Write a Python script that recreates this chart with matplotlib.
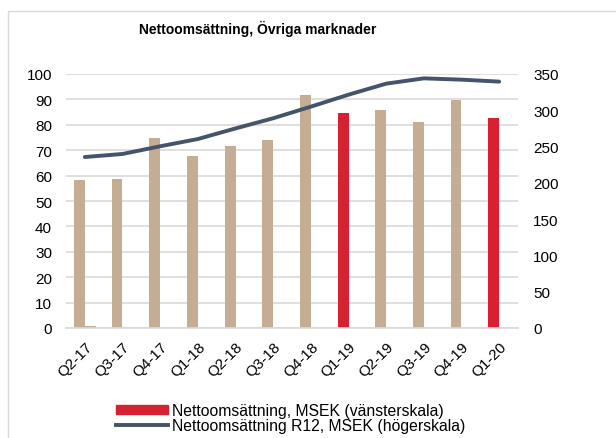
import numpy as np
import matplotlib
matplotlib.use("Agg")
from matplotlib import pyplot as plt
from matplotlib.patches import Rectangle
from matplotlib.lines import Line2D

plt.rcParams['font.family'] = ['Liberation Sans', 'DejaVu Sans']

quarters = ['Q2-17', 'Q3-17', 'Q4-17', 'Q1-18', 'Q2-18', 'Q3-18',
            'Q4-18', 'Q1-19', 'Q2-19', 'Q3-19', 'Q4-19', 'Q1-20']
sales = [58.3, 58.7, 74.8, 67.7, 71.7, 74.0, 91.8, 84.6, 85.8, 81.1, 89.8, 82.7]
other = [0.8, 0, 0, 0, 0, 0, 0, 0, 0, 0, 0, 0]
r12 = [235.6, 239.8, 250.4, 260.4, 275.0, 289.0, 305.0, 321.5, 336.7, 344.0, 342.2, 339.5]
highlight = ['Q1-19', 'Q1-20']

tan = '#C4AD92'
red = '#D72030'
navy = '#44546A'

fig = plt.figure(figsize=(6.16, 4.39), dpi=100)
fig.patches.append(Rectangle((8 / 616, -0.05), 1.0, 1 - 12 / 439 + 0.05,
                             transform=fig.transFigure, fill=False,
                             edgecolor='#D9D9D9', linewidth=1))

ax = fig.add_axes([66 / 616, 1 - 329 / 439, (518 - 66) / 616, (329 - 75) / 439])
x = np.arange(len(quarters))
w = 0.29
colors = [red if q in highlight else tan for q in quarters]
ax.bar(x - w / 2, sales, width=w, color=colors, zorder=2)
ax.bar(x + w / 2, other, width=w, color=tan, zorder=2)

ax.set_xlim(-0.5, len(quarters) - 0.5)
ax.set_ylim(0, 100)
ax.set_yticks(range(0, 101, 10))
ax.yaxis.grid(True, color='#D9D9D9', linewidth=1.2, zorder=0)
ax.set_axisbelow(True)
for s in ['top', 'right', 'left']:
    ax.spines[s].set_visible(False)
ax.spines['bottom'].set_color('#D9D9D9')
ax.spines['bottom'].set_linewidth(1.2)
ax.tick_params(axis='both', length=0, labelsize=11, colors='black')
ax.tick_params(axis='y', pad=10)
ax.set_xticks(x)
ax.set_xticklabels(quarters, rotation=45, ha='right', rotation_mode='anchor')
ax.tick_params(axis='x', pad=8)

ax2 = ax.twinx()
ax2.plot(x, r12, color=navy, linewidth=2.8, solid_capstyle='round', zorder=3)
ax2.set_ylim(0, 350)
ax2.set_yticks(range(0, 351, 50))
for s in ax2.spines.values():
    s.set_visible(False)
ax2.tick_params(axis='y', length=0, labelsize=11, pad=11)

fig.text(258 / 616, 1 - 29 / 439, 'Nettoomsättning, Övriga marknader',
         ha='center', va='center', fontsize=10, fontweight='bold')

handles = [Rectangle((0, 0), 1, 1, color=red),
           Line2D([0], [0], color=navy, linewidth=2.8)]
labels = ['Nettoomsättning, MSEK (vänsterskala)',
          'Nettoomsättning R12, MSEK (högerskala)']
fig.legend(handles, labels, loc='center left', bbox_to_anchor=(108 / 616, 1 - 419 / 439),
           frameon=False, fontsize=11.3, handlelength=3.3, handleheight=0.5,
           handletextpad=0.25, labelspacing=0.0, borderpad=0)

fig.savefig('out.png', dpi=100)
